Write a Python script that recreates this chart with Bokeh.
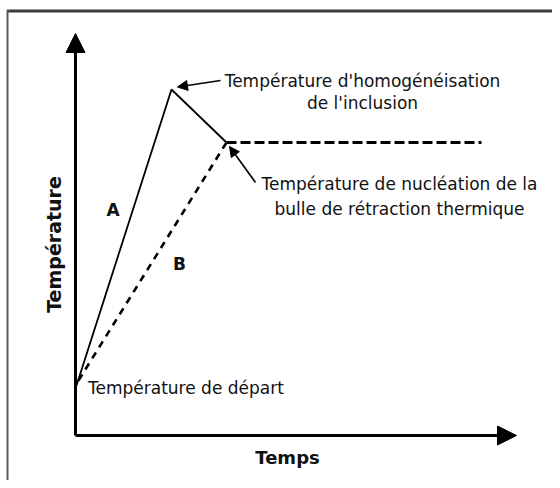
import math
from bokeh.plotting import figure
from bokeh.models import Range1d, Arrow, NormalHead
from bokeh.core.properties import value
from bokeh.embed import file_html
from bokeh.resources import INLINE

# ---- data (time t, temperature T in arbitrary schematic units) ----
curve_a_t = [1, 96, 151]
curve_a_T = [50, 346, 293]
curve_b_t = [3, 151]
curve_b_T = [55, 293]
plateau_t = [151, 406]
plateau_T = [293, 293]

axis_x_len = 441
axis_y_len = 402

labels_text = ["Température d'homogénéisation", "de l'inclusion",
               "Température de nucléation de la", "bulle de rétraction thermique"]
labels_t = [287, 287, 324, 324]
labels_T = [355, 333, 252, 227]

start_label = "Température de départ"
start_t, start_T = 12.5, 48

curve_names = ["A", "B"]
curve_names_t = [37.5, 104]
curve_names_T = [226, 172]

arrow1 = dict(t0=145, T0=355, t1=102, T1=348.5)
arrow2 = dict(t0=180, T0=253, t1=154, T1=289)

x_title, y_title = "Temps", "Température"

FONT = value("DejaVu Sans")

p = figure(width=552, height=480, x_range=Range1d(-75, 477), y_range=Range1d(-45, 435),
           output_backend="svg", toolbar_location=None, min_border=0,
           x_axis_type=None, y_axis_type=None)
p.grid.visible = False
p.outline_line_color = None
p.background_fill_color = "white"
p.border_fill_color = "white"

# frame (top & left edges visible in the reference)
p.line([-68.5, 477], [424.5, 424.5], line_color="#3c3c3c", line_width=3)
p.line([-68, -68], [425.5, -45], line_color="#5a5a5a", line_width=2)

# axes with arrow heads
p.add_layout(Arrow(end=NormalHead(size=19, fill_color="black", line_color="black"),
                   x_start=0, y_start=0, x_end=0, y_end=axis_y_len,
                   line_width=3, line_color="black"))
p.add_layout(Arrow(end=NormalHead(size=19, fill_color="black", line_color="black"),
                   x_start=0, y_start=0, x_end=axis_x_len, y_end=0,
                   line_width=3, line_color="black"))

# curves
p.line(curve_a_t, curve_a_T, line_color="black", line_width=1.8)
p.line(curve_b_t, curve_b_T, line_color="black", line_width=2.6, line_dash="7 6")
p.line(plateau_t, plateau_T, line_color="black", line_width=2.8, line_dash="10 4")

# annotation arrows
for a in (arrow1, arrow2):
    p.add_layout(Arrow(end=NormalHead(size=10, fill_color="black", line_color="black"),
                       x_start=a["t0"], y_start=a["T0"], x_end=a["t1"], y_end=a["T1"],
                       line_width=1.6, line_color="black"))

# texts
p.text(labels_t, labels_T, text=labels_text, text_font=FONT, text_font_size="17px",
       text_align="center", text_baseline="middle", text_color="#111111")
p.text([start_t], [start_T], text=[start_label], text_font=FONT, text_font_size="17px",
       text_align="left", text_baseline="middle", text_color="#111111")
p.text(curve_names_t, curve_names_T, text=curve_names, text_font=FONT, text_font_size="17px",
       text_font_style="bold", text_align="center", text_baseline="middle", text_color="#111111")
p.text([212], [-22], text=[x_title], text_font=FONT, text_font_size="18px",
       text_font_style="bold", text_align="center", text_baseline="middle", text_color="#111111")
p.text([-21.4], [191], text=[y_title], angle=math.pi / 2, text_font=FONT, text_font_size="19px",
       text_font_style="bold", text_align="center", text_baseline="middle", text_color="#111111")

open("out.html", "w").write(file_html(p, INLINE))
